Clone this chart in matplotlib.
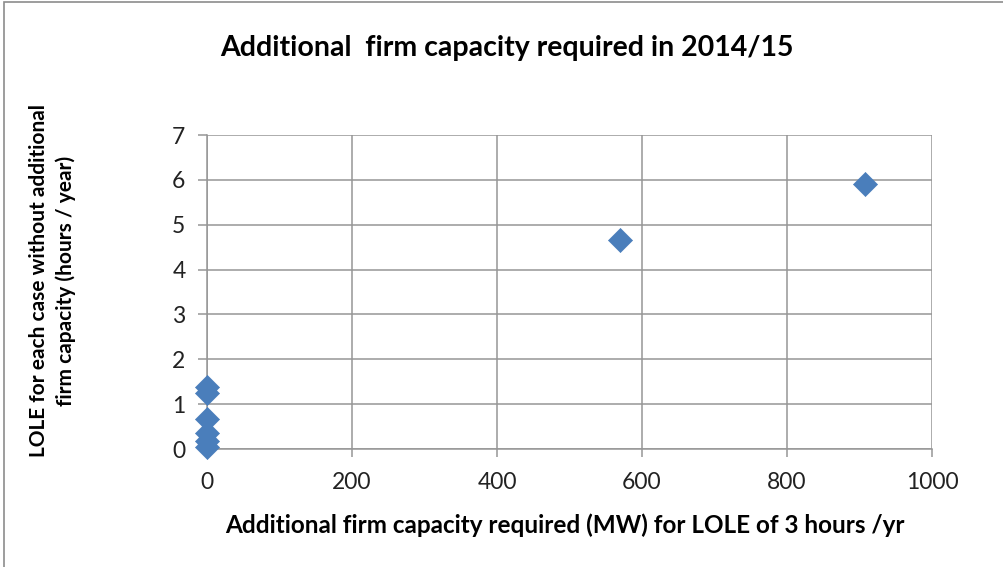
import matplotlib

matplotlib.use("Agg")

import matplotlib.pyplot as plt
from matplotlib.patches import Rectangle

# Additional firm capacity (MW) needed for LOLE of 3 h/yr vs. LOLE without it
capacity_mw = [0, 0, 0, 0, 0, 0, 570, 908]
lole_hours = [1.38, 1.25, 0.67, 0.35, 0.18, 0.04, 4.67, 5.9]

x_ticks = [0, 200, 400, 600, 800, 1000]
y_ticks = [0, 1, 2, 3, 4, 5, 6, 7]

title = "Additional  firm capacity required in 2014/15"
x_label = "Additional firm capacity required (MW) for LOLE of 3 hours /yr"
y_label = "LOLE for each case without additional\nfirm capacity (hours / year)"

plt.rcParams["font.family"] = ["Lato", "DejaVu Sans"]

fig = plt.figure(figsize=(10.04, 5.67), dpi=100)
ax = fig.add_axes([0.2062, 0.2081, 0.7221, 0.5538])

ax.scatter(capacity_mw, lole_hours, marker="D", s=150, color="#4a7ebb",
           edgecolors="#4a7ebb", linewidths=0.5, zorder=3, clip_on=False)

ax.set_xlim(0, 1000)
ax.set_ylim(0, 7)
ax.set_xticks(x_ticks)
ax.set_yticks(y_ticks)
ax.grid(True, color="#969696", linewidth=1.1)
ax.set_axisbelow(True)
for side in ("top", "right"):
    ax.spines[side].set_visible(False)
for side in ("left", "bottom"):
    ax.spines[side].set_color("#969696")
    ax.spines[side].set_linewidth(1.1)
ax.tick_params(axis="both", labelsize=16.5, colors="#969696", labelcolor="#222222",
               length=6.5, width=1.1)
ax.tick_params(axis="y", pad=9)
ax.tick_params(axis="x", length=5.5, pad=11)

fig.text(0.505, 0.915, title, ha="center", va="center",
         fontsize=20.5, fontweight="bold")
fig.text(0.563, 0.073, x_label, ha="center", va="center",
         fontsize=17.5, fontweight="bold")
fig.text(0.052, 0.505, y_label, ha="center", va="center", rotation=90,
         fontsize=15, fontweight="bold", linespacing=1.4)

# thin chart border on the left and top edges
fig.patches.append(Rectangle((0.004, -0.01), 1.2, 1.006, transform=fig.transFigure,
                             fill=False, edgecolor="#8c8c8c", linewidth=1.2))

fig.savefig("out.png", dpi=100)
